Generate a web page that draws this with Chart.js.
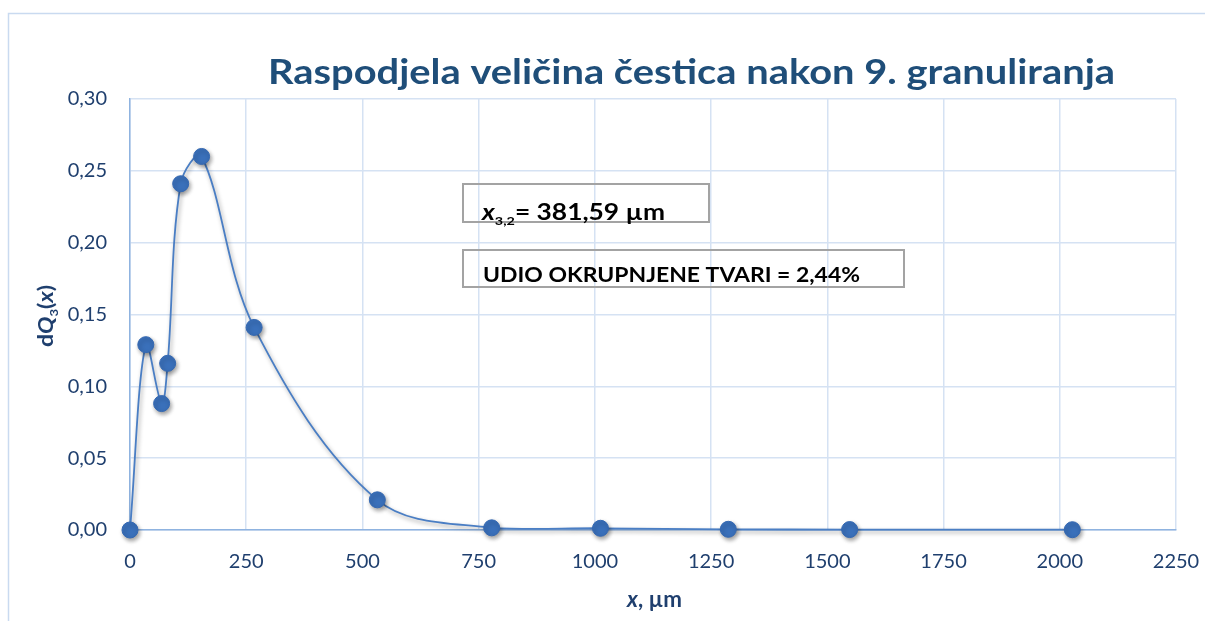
<!DOCTYPE html>
<html>
<head>
<meta charset="utf-8">
<script src="https://cdn.jsdelivr.net/npm/chart.js@4.4.1/dist/chart.umd.min.js"></script>
<style>
html,body{margin:0;padding:0;background:#fff;}
#wrap{width:1205px;height:621px;position:relative;}
</style>
</head>
<body>
<div id="wrap"><canvas id="c" width="1205" height="621"></canvas></div>
<script>
// ---- data ----
const xValues = [0, 34, 68, 81, 109, 154, 267, 532, 778, 1012, 1287, 1548, 2027];
const dQ3Values = [0.000, 0.129, 0.088, 0.116, 0.241, 0.260, 0.141, 0.021, 0.0015, 0.0012, 0.0005, 0.0003, 0.0002];
const chartTitle = 'Raspodjela veličina čestica nakon 9. granuliranja';
const box1Label = ['x', '3,2', '= 381,59 µm'];
const box2Label = 'UDIO OKRUPNJENE TVARI = 2,44%';
const xAxisMin = 0, xAxisMax = 2250, xAxisStep = 250;
const yAxisMin = 0, yAxisMax = 0.30, yAxisStep = 0.05;

const FONT = 'Lato, "Open Sans", sans-serif';
const DARK = '#1f3f6e';

function drawSegs(ctx, segs, x, y, targetW) {
  let total = 0;
  const widths = segs.map(s => { ctx.font = s.font; const w = ctx.measureText(s.text).width; total += w; return w; });
  const sc = targetW ? targetW / total : 1;
  ctx.save();
  ctx.translate(x, y);
  ctx.scale(sc, 1);
  let cx = 0;
  segs.forEach((s, i) => {
    ctx.font = s.font;
    ctx.fillText(s.text, cx, s.dy || 0);
    cx += widths[i];
  });
  ctx.restore();
}

const decor = {
  id: 'decor',
  beforeDraw(chart) {
    const ctx = chart.ctx;
    ctx.save();
    ctx.strokeStyle = '#c9daf0';
    ctx.lineWidth = 1.5;
    ctx.strokeRect(8.5, 13.5, 1400, 800);
    ctx.restore();
  },
  beforeDatasetDraw(chart) {
    const ctx = chart.ctx;
    ctx.save();
    ctx.shadowColor = 'rgba(0,0,0,0.38)';
    ctx.shadowBlur = 4;
    ctx.shadowOffsetX = 1.5;
    ctx.shadowOffsetY = 2.5;
  },
  afterDatasetDraw(chart) {
    chart.ctx.restore();
  },
  afterDraw(chart) {
    const ctx = chart.ctx;
    ctx.save();
    ctx.textBaseline = 'alphabetic';
    ctx.textAlign = 'left';
    // title
    ctx.fillStyle = '#1f4e79';
    drawSegs(ctx, [{text: chartTitle, font: 'bold 35px ' + FONT}], 268, 84, 847);
    // boxes
    ctx.strokeStyle = '#a3a3a3';
    ctx.lineWidth = 2;
    ctx.strokeRect(463, 184, 246, 38);
    ctx.strokeRect(463, 250, 441, 37);
    ctx.fillStyle = '#000';
    drawSegs(ctx, [
      {text: box1Label[0], font: 'italic bold 22px ' + FONT},
      {text: box1Label[1], font: 'bold 12px ' + FONT, dy: 5},
      {text: box1Label[2], font: 'bold 22px ' + FONT}
    ], 482, 220, 183);
    drawSegs(ctx, [{text: box2Label, font: 'bold 21px ' + FONT}], 483, 282, 377);
    // axis titles
    ctx.fillStyle = DARK;
    drawSegs(ctx, [
      {text: 'x', font: 'italic bold 22px ' + FONT},
      {text: ', µm', font: 'bold 22px ' + FONT}
    ], 627, 607, 55);
    ctx.save();
    ctx.translate(53, 347);
    ctx.rotate(-Math.PI / 2);
    drawSegs(ctx, [
      {text: 'd', font: 'bold 21px ' + FONT},
      {text: 'Q', font: 'italic bold 21px ' + FONT},
      {text: '3', font: 'bold 12px ' + FONT, dy: 5},
      {text: '(', font: 'bold 21px ' + FONT},
      {text: 'x', font: 'italic bold 21px ' + FONT},
      {text: ')', font: 'bold 21px ' + FONT}
    ], 0, 0, 62);
    ctx.restore();
    ctx.restore();
  }
};

const points = xValues.map((x, i) => ({x: x, y: dQ3Values[i]}));

new Chart(document.getElementById('c'), {
  type: 'scatter',
  data: {
    datasets: [{
      data: points,
      showLine: true,
      tension: 0.35,
      borderColor: '#4a7ec4',
      borderWidth: 1.8,
      pointRadius: 8,
      pointHoverRadius: 8,
      pointBackgroundColor: '#3a70ba',
      pointBorderColor: '#3468b2',
      pointBorderWidth: 1,
      clip: false
    }]
  },
  options: {
    responsive: false,
    animation: false,
    events: [],
    layout: {padding: {left: 0, top: 99, right: 29, bottom: 0}},
    plugins: {legend: {display: false}, title: {display: false}, tooltip: {enabled: false}},
    scales: {
      x: {
        type: 'linear',
        min: xAxisMin, max: xAxisMax,
        afterFit(scale) { scale.height = 91; scale.paddingLeft = 0; scale.paddingRight = 0; },
        grid: {color: '#d5e2f3', lineWidth: 1.5, drawTicks: false},
        border: {color: '#8fb3e0', width: 1.5},
        ticks: {
          stepSize: xAxisStep,
          padding: 20,
          color: DARK,
          font: {family: FONT, size: 20},
          callback: v => String(v)
        }
      },
      y: {
        type: 'linear',
        min: yAxisMin, max: yAxisMax,
        afterFit(scale) { scale.width = 130; scale.paddingTop = 0; scale.paddingBottom = 0; },
        grid: {color: '#d5e2f3', lineWidth: 1.5, drawTicks: false},
        border: {color: '#8fb3e0', width: 1.5},
        ticks: {
          stepSize: yAxisStep,
          padding: 23,
          color: DARK,
          font: {family: FONT, size: 20},
          callback: v => v.toFixed(2).replace('.', ',')
        }
      }
    }
  },
  plugins: [decor]
});
</script>
</body>
</html>
